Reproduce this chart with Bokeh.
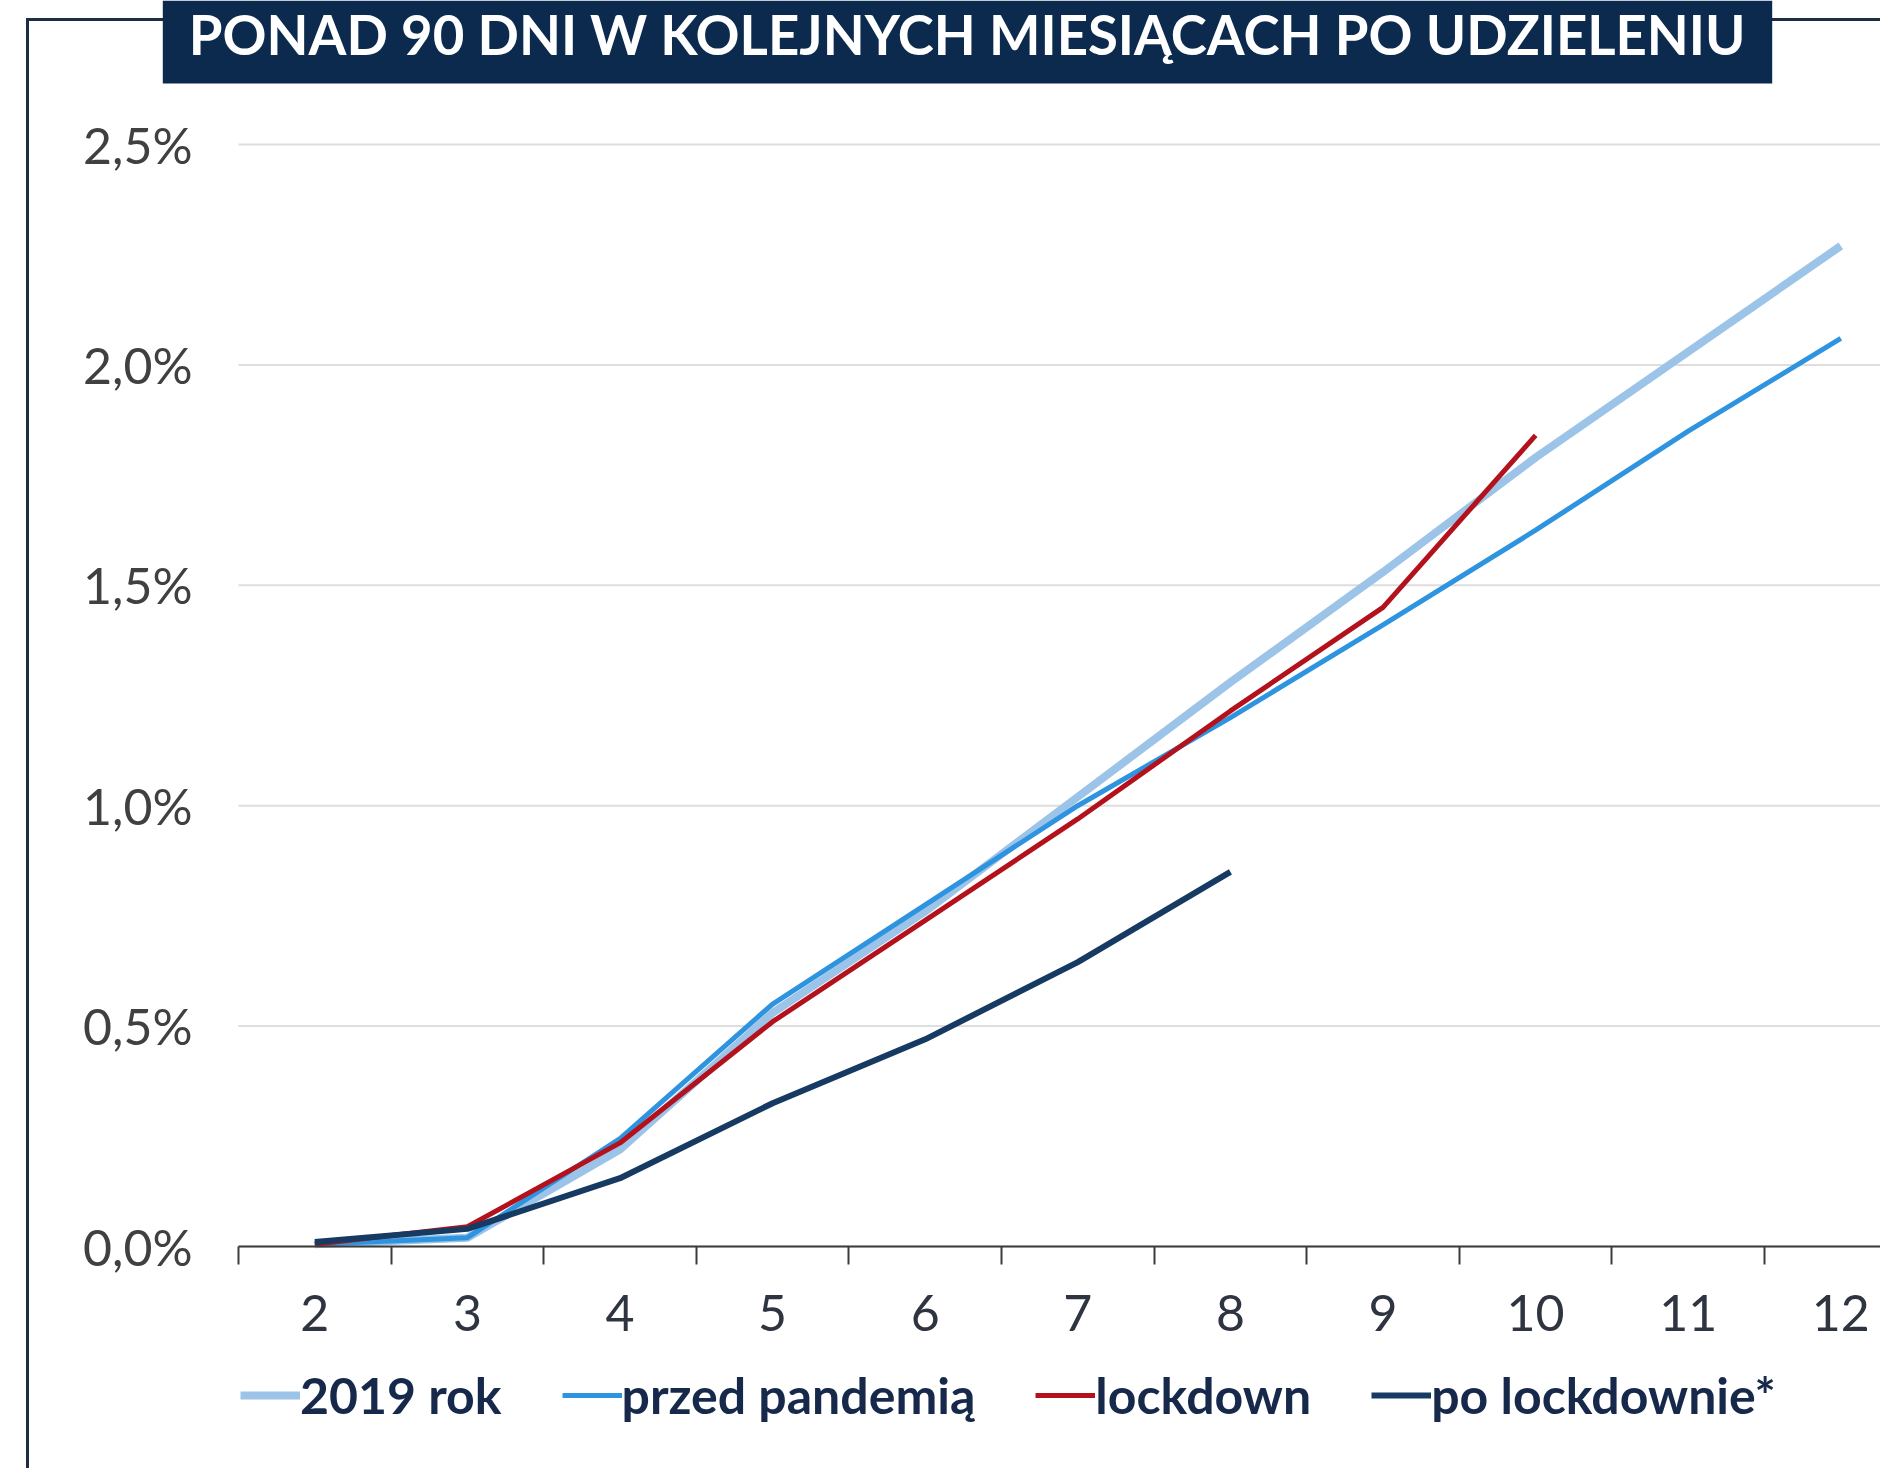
from bokeh.plotting import figure
from bokeh.models import (Range1d, FixedTicker, Legend, LegendItem, Label,
                          LinearAxis)
from bokeh.embed import file_html
from bokeh.resources import INLINE

# ---- data (values in %) ----
months = [2, 3, 4, 5, 6, 7, 8, 9, 10, 11, 12]
rok_2019 = [0.005, 0.02, 0.22, 0.53, 0.76, 1.02, 1.28, 1.53, 1.79, 2.03, 2.27]
przed_pandemia = [0.005, 0.02, 0.245, 0.55, 0.775, 1.0, 1.2, 1.41, 1.625, 1.85, 2.06]
lockdown = [0.005, 0.045, 0.235, 0.51, 0.74, 0.97, 1.215, 1.45, 1.84]
po_lockdownie = [0.01, 0.04, 0.155, 0.325, 0.47, 0.645, 0.85]
y_ticks = [0.0, 0.5, 1.0, 1.5, 2.0, 2.5]
series_names = ["2019 rok", "przed pandemią", "lockdown", "po lockdownie*"]
series_colors = ["#9cc4e8", "#2f94e0", "#b3121c", "#163a62"]
title_text = "PONAD 90 DNI W KOLEJNYCH MIESIĄCACH PO UDZIELENIU"

W, H = 1880, 1468
FONT = "Lato"
BORDER = "#1e2c44"

bounds = [m - 0.5 for m in months] + [months[-1] + 0.5]

p = figure(width=W, height=H, output_backend="svg", toolbar_location=None,
           x_range=Range1d(-0.0596, 12.26), y_range=Range1d(-0.5036, 2.8267),
           min_border_left=0, min_border_right=0, min_border_top=0,
           min_border_bottom=0, x_axis_type=None)
p.outline_line_color = None
p.background_fill_alpha = 0
p.border_fill_alpha = 0
p.xgrid.visible = False
p.ygrid.visible = False
p.styles = {
    "background-image": f"linear-gradient({BORDER}, {BORDER}), linear-gradient({BORDER}, {BORDER})",
    "background-position": "26px 18px, 26px 18px",
    "background-size": "3px 100%, 100% 3px",
    "background-repeat": "no-repeat",
}

# y axis (labels only)
p.yaxis.ticker = FixedTicker(ticks=y_ticks)
p.yaxis.major_label_overrides = {t: f"{t:.1f}".replace(".", ",") + "%" for t in y_ticks}
p.yaxis.axis_line_color = None
p.yaxis.major_tick_line_color = None
p.yaxis.minor_tick_line_color = None
p.yaxis.major_tick_out = 0
p.yaxis.major_tick_in = 0
p.yaxis.major_label_text_font = FONT
p.yaxis.major_label_text_font_size = "50px"
p.yaxis.major_label_text_color = "#404040"
p.yaxis.major_label_standoff = -192

# horizontal gridlines at the y ticks, over the category span
p.segment(x0=[bounds[0]] * len(y_ticks), x1=[bounds[-1]] * len(y_ticks),
          y0=y_ticks, y1=y_ticks, line_color="#dedede", line_width=2)

# x axis at y=0: labels at month centers, ticks at boundaries
xaxis = LinearAxis(ticker=FixedTicker(ticks=months, minor_ticks=bounds),
                   bounds=(bounds[0], bounds[-1]), fixed_location=0)
xaxis.axis_line_color = "#3c3c3c"
xaxis.axis_line_width = 2
xaxis.major_tick_line_color = None
xaxis.major_tick_out = 0
xaxis.major_tick_in = 0
xaxis.minor_tick_line_color = "#3c3c3c"
xaxis.minor_tick_line_width = 2
xaxis.minor_tick_out = 0
xaxis.minor_tick_in = 18
xaxis.major_label_text_font = FONT
xaxis.major_label_text_font_size = "50px"
xaxis.major_label_text_color = "#2e3440"
xaxis.major_label_standoff = -84
p.add_layout(xaxis, "above")

# title box
title = Label(x=967, y=H, x_units="screen", y_units="screen",
              text=title_text, text_align="center", text_baseline="top",
              text_font=FONT, text_font_style="bold", text_font_size="54.5px",
              text_color="white", background_fill_color="#0b2a4e",
              background_fill_alpha=1,
              padding={"left": 26, "right": 26, "top": 0, "bottom": 17})
p.add_layout(title)

# lines
r1 = p.line(months, rok_2019, line_color=series_colors[0], line_width=8)
r2 = p.line(months, przed_pandemia, line_color=series_colors[1], line_width=5)
r3 = p.line(months[:len(lockdown)], lockdown, line_color=series_colors[2], line_width=5)
r4 = p.line(months[:len(po_lockdownie)], po_lockdownie, line_color=series_colors[3], line_width=6)

legend = Legend(items=[LegendItem(label=n, renderers=[r]) for n, r in
                       zip(series_names, [r1, r2, r3, r4])],
                orientation="horizontal", location=(240, 43),
                label_text_font=FONT, label_text_font_style="bold",
                label_text_font_size="50px", label_text_color="#17294a",
                glyph_width=60, glyph_height=40, label_standoff=0,
                spacing=60, padding=0, margin=0,
                border_line_color=None, background_fill_alpha=0)
p.add_layout(legend)

open("out.html", "w").write(file_html(p, INLINE))
